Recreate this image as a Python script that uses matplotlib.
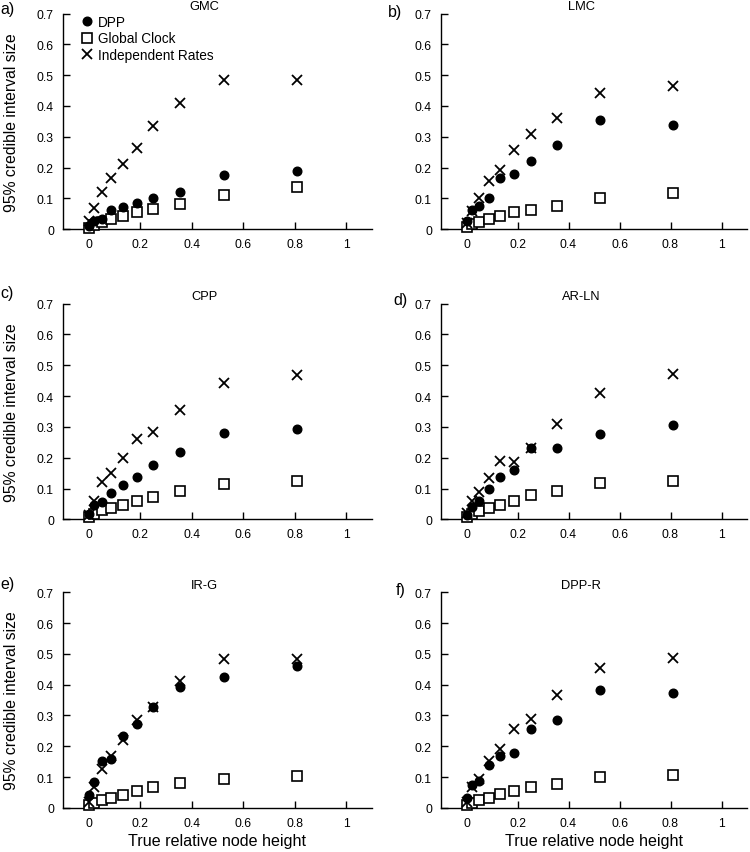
import numpy as np
import matplotlib
matplotlib.use('Agg')
import matplotlib.pyplot as plt

plt.rcParams['font.family'] = ['Liberation Sans', 'DejaVu Sans']

# relative node heights (shared by all panels)
node_height = [0.0, 0.02, 0.05, 0.088, 0.132, 0.187, 0.251, 0.356, 0.525, 0.81]

panel_names = ['GMC', 'LMC', 'CPP', 'AR-LN', 'IR-G', 'DPP-R']
panel_letters = ['a)', 'b)', 'c)', 'd)', 'e)', 'f)']

# 95% credible interval sizes, DPP
dpp = {
    'GMC':   [0.010, 0.027, 0.033, 0.062, 0.073, 0.084, 0.100, 0.121, 0.176, 0.189],
    'LMC':   [0.027, 0.062, 0.076, 0.100, 0.165, 0.181, 0.222, 0.272, 0.356, 0.339],
    'CPP':   [0.016, 0.045, 0.056, 0.086, 0.112, 0.137, 0.175, 0.217, 0.281, 0.294],
    'AR-LN': [0.013, 0.040, 0.060, 0.099, 0.137, 0.160, 0.231, 0.231, 0.278, 0.307],
    'IR-G':  [0.043, 0.084, 0.154, 0.160, 0.235, 0.271, 0.329, 0.392, 0.426, 0.462],
    'DPP-R': [0.032, 0.073, 0.089, 0.138, 0.168, 0.178, 0.255, 0.284, 0.382, 0.374],
}
# Global clock
glob = {
    'GMC':   [0.005, 0.013, 0.024, 0.035, 0.043, 0.056, 0.067, 0.083, 0.110, 0.137],
    'LMC':   [0.009, 0.016, 0.024, 0.032, 0.043, 0.056, 0.063, 0.076, 0.100, 0.119],
    'CPP':   [0.008, 0.016, 0.029, 0.038, 0.045, 0.061, 0.073, 0.093, 0.116, 0.124],
    'AR-LN': [0.009, 0.016, 0.027, 0.037, 0.047, 0.060, 0.080, 0.092, 0.118, 0.123],
    'IR-G':  [0.009, 0.017, 0.025, 0.032, 0.043, 0.056, 0.068, 0.081, 0.093, 0.104],
    'DPP-R': [0.009, 0.016, 0.025, 0.033, 0.044, 0.055, 0.069, 0.079, 0.099, 0.106],
}
# Independent rates
indep = {
    'GMC':   [0.027, 0.070, 0.121, 0.165, 0.212, 0.265, 0.334, 0.411, 0.484, 0.483],
    'LMC':   [0.020, 0.060, 0.100, 0.157, 0.192, 0.257, 0.308, 0.362, 0.443, 0.464],
    'CPP':   [0.015, 0.059, 0.122, 0.150, 0.199, 0.262, 0.282, 0.354, 0.443, 0.468],
    'AR-LN': [0.020, 0.059, 0.089, 0.135, 0.188, 0.186, 0.231, 0.309, 0.411, 0.471],
    'IR-G':  [0.020, 0.068, 0.125, 0.167, 0.219, 0.287, 0.329, 0.413, 0.483, 0.483],
    'DPP-R': [0.020, 0.068, 0.095, 0.151, 0.192, 0.257, 0.289, 0.365, 0.455, 0.486],
}

fig = plt.figure(figsize=(7.5, 8.53), dpi=100)

lefts = [0.084, 0.588]
widths = [0.412, 0.408]
bottoms = [0.730, 0.390, 0.0516]
h = 0.253

letter_pos = [(0.0, 0.998), (0.517, 0.994), (0.0, 0.665), (0.525, 0.656),
              (0.0, 0.324), (0.527, 0.317)]

for i, name in enumerate(panel_names):
    r, c = divmod(i, 2)
    ax = fig.add_axes([lefts[c], bottoms[r], widths[c], h])
    ax.plot(node_height, glob[name], 's', ms=6.6, mfc='white', mec='black',
            mew=1.2, clip_on=False, zorder=3, label='Global Clock')
    ax.plot(node_height, dpp[name], 'o', ms=6.2, color='black',
            clip_on=False, zorder=4, label='DPP')
    ax.plot(node_height, indep[name], 'x', ms=7, color='black', mew=1.3,
            clip_on=False, zorder=5, label='Independent Rates')

    ax.set_xlim(-0.1, 1.1)
    ax.set_ylim(0, 0.7)
    ax.spines['top'].set_visible(False)
    ax.spines['right'].set_visible(False)
    for s in ['left', 'bottom']:
        ax.spines[s].set_linewidth(1.0)
    ax.set_xticks([0, 0.2, 0.4, 0.6, 0.8, 1.0])
    ax.set_xticklabels(['0', '0.2', '0.4', '0.6', '0.8', '1'])
    ax.set_yticks(np.arange(0, 0.71, 0.1))
    ax.set_yticklabels(['0', '0.1', '0.2', '0.3', '0.4', '0.5', '0.6', '0.7'])
    ax.tick_params(direction='in', length=5, width=1.0, labelsize=8.7, pad=6.5)

    ax.text(0.45, 0.724, name, ha='center', va='center', fontsize=9.3, clip_on=False)

    if c == 0:
        fig.text(0.016, bottoms[r] + h / 2, '95% credible interval size',
                 rotation=90, ha='center', va='center', fontsize=11.3)
    if r == 2:
        ax.set_xlabel('True relative node height', fontsize=11.6, labelpad=3)

    fig.text(letter_pos[i][0], letter_pos[i][1], panel_letters[i],
             ha='left', va='top', fontsize=11.5)

    if i == 0:
        hs, ls = ax.get_legend_handles_labels()
        order = [1, 0, 2]
        ax.legend([hs[k] for k in order], [ls[k] for k in order],
                  loc='upper left', bbox_to_anchor=(0.056, 0.995), frameon=False,
                  borderaxespad=0, borderpad=0, handlelength=1.0,
                  handletextpad=0.3, labelspacing=0.2, fontsize=9.8)

fig.savefig('out.png', dpi=100)
